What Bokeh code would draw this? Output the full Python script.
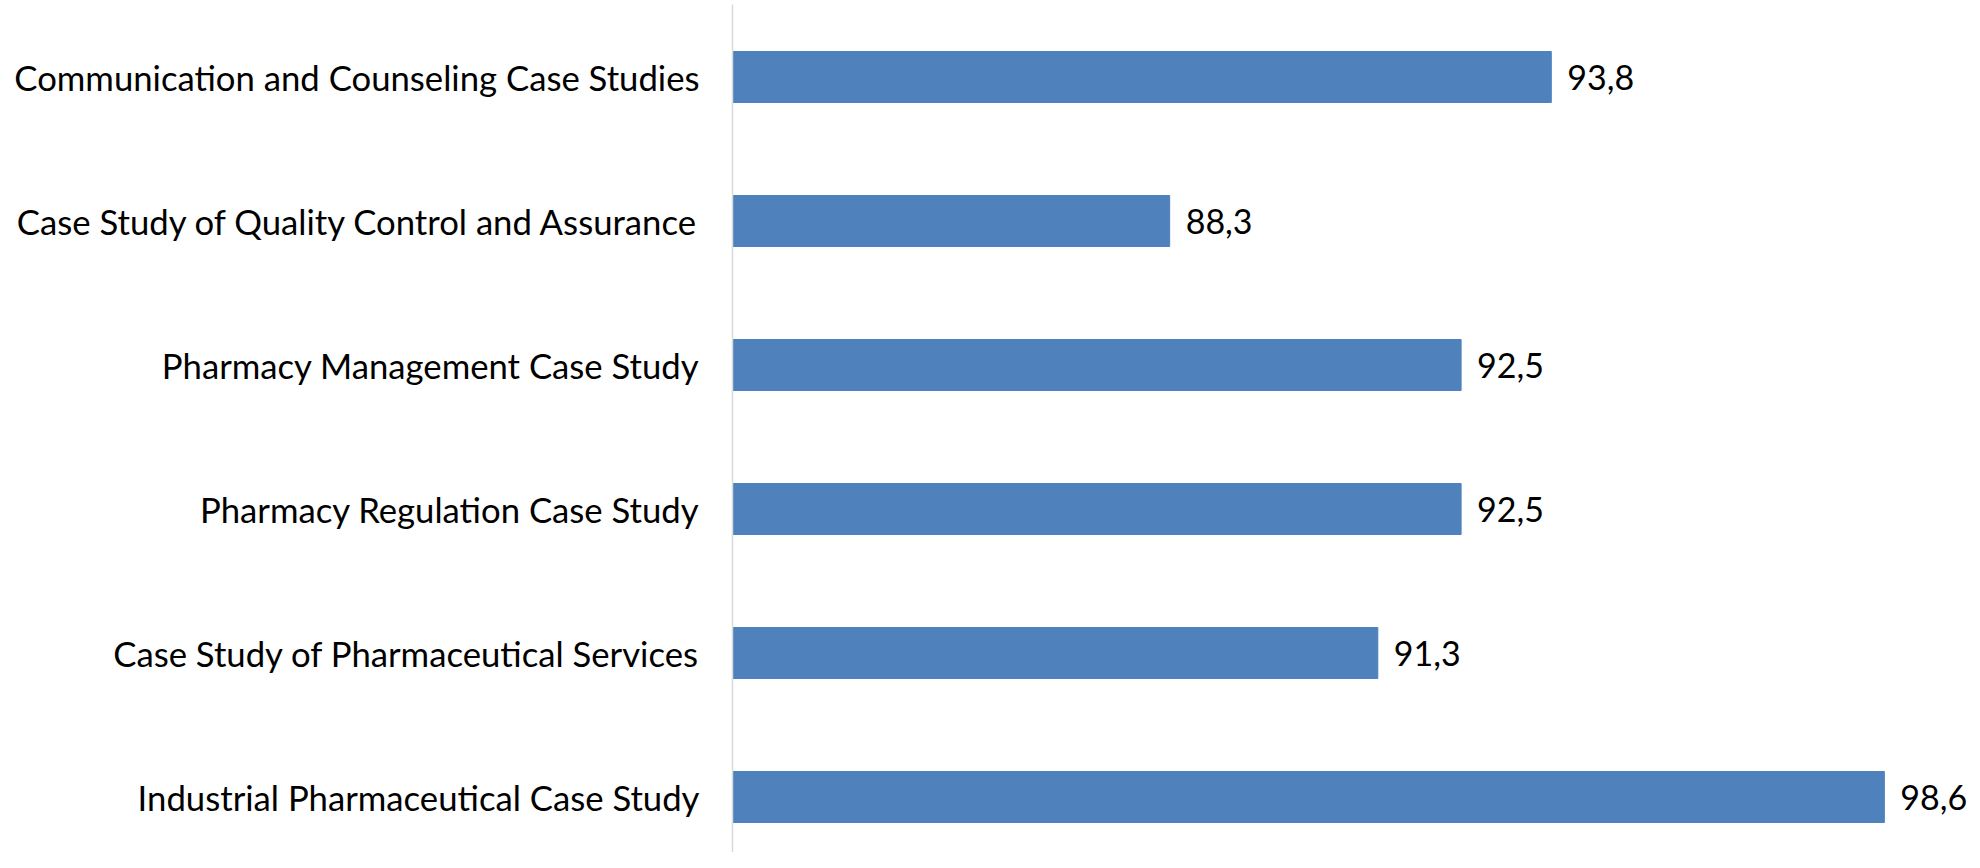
from bokeh.plotting import figure
from bokeh.models import Range1d, ColumnDataSource, FixedTicker, LabelSet
from bokeh.embed import file_html
from bokeh.resources import INLINE
from bokeh.core.properties import value

categories = [
    "Communication and Counseling Case Studies",
    "Case Study of Quality Control and Assurance",
    "Pharmacy Management Case Study",
    "Pharmacy Regulation Case Study",
    "Case Study of Pharmaceutical Services",
    "Industrial Pharmaceutical Case Study",
]
values = [93.8, 88.3, 92.5, 92.5, 91.3, 98.6]
x_min, x_max = 82, 99.87

n = len(categories)
ypos = [n - 1 - i for i in range(n)]
labels = [f"{v:.1f}".replace(".", ",") for v in values]
src = ColumnDataSource(dict(y=ypos, v=values, lab=labels))

W, H = 1972, 852
FONT = "Lato"
p = figure(width=W, height=H, output_backend="svg", toolbar_location=None,
           x_range=Range1d(x_min, x_max), y_range=Range1d(-0.3854, 5.5035),
           x_axis_location=None,
           min_border_left=732, min_border_right=0, min_border_top=4, min_border_bottom=0)
p.outline_line_color = None
p.grid.visible = False
p.background_fill_color = "white"

p.hbar(y="y", left=x_min, right="v", height=0.354, fill_color="#4F81BD",
       line_color="#4F81BD", source=src)

ax = p.yaxis[0]
ax.ticker = FixedTicker(ticks=ypos)
ax.major_label_overrides = {y: c for y, c in zip(ypos, categories)}
ax.axis_line_color = "#d9d9d9"
ax.axis_line_width = 1.5
ax.major_tick_in = 0
ax.major_tick_out = 0
ax.minor_tick_in = 0
ax.minor_tick_out = 0
ax.major_label_standoff = 33
ax.major_label_text_font = FONT
ax.major_label_text_font_size = "34.7px"
ax.major_label_text_color = "black"

lbl = LabelSet(x="v", y="y", text="lab", x_offset=16, text_baseline="middle",
               text_font=value(FONT), text_font_size="34px", text_color="black",
               source=src)
p.add_layout(lbl)

open("out.html", "w").write(file_html(p, INLINE))
